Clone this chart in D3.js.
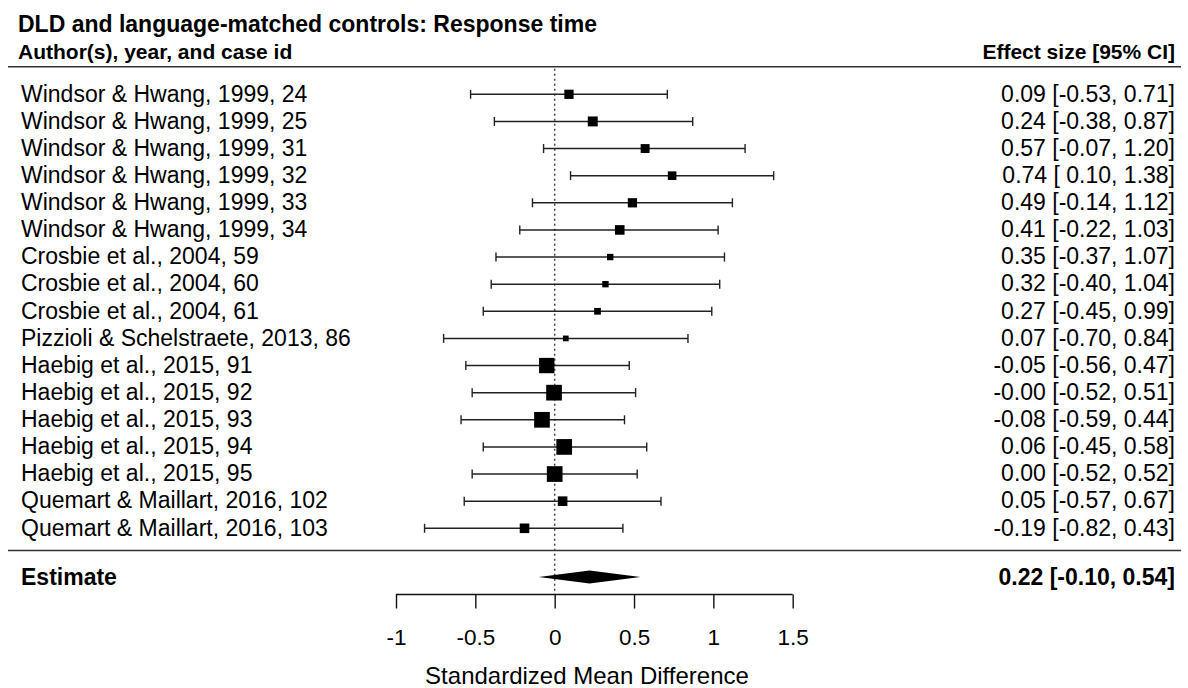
<!DOCTYPE html>
<html>
<head>
<meta charset="utf-8">
<script src="https://cdn.jsdelivr.net/npm/d3@7"></script>
<style>
  html, body { margin: 0; padding: 0; background: #fff; }
  svg { display: block; }
  text { font-family: "Liberation Sans", Arial, Helvetica, sans-serif; fill: #000; white-space: pre; }
</style>
</head>
<body>
<svg id="chart" width="1188" height="688"></svg>
<script>
// Study rows: author, year and case id
const studies = [
  "Windsor & Hwang, 1999, 24",
  "Windsor & Hwang, 1999, 25",
  "Windsor & Hwang, 1999, 31",
  "Windsor & Hwang, 1999, 32",
  "Windsor & Hwang, 1999, 33",
  "Windsor & Hwang, 1999, 34",
  "Crosbie et al., 2004, 59",
  "Crosbie et al., 2004, 60",
  "Crosbie et al., 2004, 61",
  "Pizzioli & Schelstraete, 2013, 86",
  "Haebig et al., 2015, 91",
  "Haebig et al., 2015, 92",
  "Haebig et al., 2015, 93",
  "Haebig et al., 2015, 94",
  "Haebig et al., 2015, 95",
  "Quemart & Maillart, 2016, 102",
  "Quemart & Maillart, 2016, 103"
];

// Standardized mean differences with 95% confidence limits
const effect = [0.09, 0.24, 0.57, 0.74, 0.49, 0.41, 0.35, 0.32, 0.27, 0.07, -0.05, -0.004, -0.08, 0.06, 0.00, 0.05, -0.19];
const ciLower = [-0.53, -0.38, -0.07, 0.10, -0.14, -0.22, -0.37, -0.40, -0.45, -0.70, -0.56, -0.52, -0.59, -0.45, -0.52, -0.57, -0.82];
const ciUpper = [0.71, 0.87, 1.20, 1.38, 1.12, 1.03, 1.07, 1.04, 0.99, 0.84, 0.47, 0.51, 0.44, 0.58, 0.52, 0.67, 0.43];

// Model weights, used for the size of each square
const weights = [6.0, 6.4, 5.8, 5.6, 6.0, 6.2, 4.3, 4.3, 4.5, 3.9, 9.6, 9.8, 9.8, 9.8, 9.8, 6.2, 6.2];

// Pooled estimate
const pooled = { label: "Estimate", est: 0.22, lb: -0.10, ub: 0.54 };

// Axis ticks
const axisTicks = [-1, -0.5, 0, 0.5, 1, 1.5];

const titleText = "DLD and language-matched controls: Response time";
const leftHeader = "Author(s), year, and case id";
const rightHeader = "Effect size [95% CI]";
const axisTitle = "Standardized Mean Difference";

const svg = d3.select("#chart");

const x = d3.scaleLinear().domain([-1, 1.5]).range([396, 792.7]);
const y = d3.scalePoint().domain(d3.range(studies.length)).range([94.3, 528.3]);
const size = d3.scaleLinear().domain(d3.extent(weights)).range([5.7, 15.7]);

const labelX = 21, rightX = 1175;
const ruleX0 = 8, ruleX1 = 1181;
const topRule = 66.7, bottomRule = 550.5;
const pooledY = 577, axisY = 594.5;
const lineColor = "#333";

const fmt = v => v.toFixed(2);
const fmtLow = v => (v >= 0 ? " " : "") + fmt(v);

// Title and column headers
svg.append("text").attr("x", 18).attr("y", 31.5)
  .attr("font-size", 23).attr("font-weight", "bold").text(titleText);
svg.append("text").attr("x", 18).attr("y", 58.5)
  .attr("font-size", 21).attr("font-weight", "bold").text(leftHeader);
svg.append("text").attr("x", rightX).attr("y", 58.5).attr("text-anchor", "end")
  .attr("font-size", 21).attr("font-weight", "bold").text(rightHeader);

// Horizontal rules
svg.selectAll("line.rule").data([topRule, bottomRule]).join("line")
  .attr("class", "rule")
  .attr("x1", ruleX0).attr("x2", ruleX1)
  .attr("y1", d => d).attr("y2", d => d)
  .attr("stroke", lineColor).attr("stroke-width", 1.6);

// Reference line at zero
svg.append("line")
  .attr("x1", x(0)).attr("x2", x(0))
  .attr("y1", topRule + 2).attr("y2", axisY)
  .attr("stroke", "#444").attr("stroke-width", 1.5)
  .attr("stroke-dasharray", "2,3");

const rows = d3.range(studies.length).map(i => ({
  i, label: studies[i], est: effect[i], lb: ciLower[i], ub: ciUpper[i], w: weights[i]
}));

const g = svg.append("g");

// Confidence intervals
g.selectAll("line.ci").data(rows).join("line")
  .attr("class", "ci")
  .attr("x1", d => x(d.lb)).attr("x2", d => x(d.ub))
  .attr("y1", d => y(d.i)).attr("y2", d => y(d.i))
  .attr("stroke", "#222").attr("stroke-width", 1.4);

// Interval end caps
const caps = rows.flatMap(d => [{ v: d.lb, i: d.i }, { v: d.ub, i: d.i }]);
g.selectAll("line.cap").data(caps).join("line")
  .attr("class", "cap")
  .attr("x1", d => x(d.v)).attr("x2", d => x(d.v))
  .attr("y1", d => y(d.i) - 4.5).attr("y2", d => y(d.i) + 4.5)
  .attr("stroke", "#222").attr("stroke-width", 1.4);

// Point estimates, sized by weight
g.selectAll("rect.pt").data(rows).join("rect")
  .attr("class", "pt")
  .attr("x", d => x(d.est) - size(d.w) / 2)
  .attr("y", d => y(d.i) - size(d.w) / 2)
  .attr("width", d => size(d.w)).attr("height", d => size(d.w))
  .attr("fill", "#000");

// Study labels
g.selectAll("text.study").data(rows).join("text")
  .attr("class", "study")
  .attr("x", labelX).attr("y", d => y(d.i) + 7.2)
  .attr("font-size", 23).text(d => d.label);

// Effect size text
g.selectAll("text.es").data(rows).join("text")
  .attr("class", "es")
  .attr("x", rightX).attr("y", d => y(d.i) + 7.2)
  .attr("text-anchor", "end").attr("font-size", 23)
  .text(d => `${fmt(d.est)} [${fmtLow(d.lb)}, ${fmt(d.ub)}]`);

// Pooled estimate row
svg.append("text").attr("x", labelX).attr("y", pooledY + 7.8)
  .attr("font-size", 23).attr("font-weight", "bold").text(pooled.label);
svg.append("text").attr("x", rightX).attr("y", pooledY + 7.8)
  .attr("text-anchor", "end").attr("font-size", 23).attr("font-weight", "bold")
  .text(`${fmt(pooled.est)} [${fmtLow(pooled.lb)}, ${fmt(pooled.ub)}]`);

svg.append("polygon")
  .attr("points", [
    [x(pooled.lb), pooledY],
    [x(pooled.est), pooledY - 6.5],
    [x(pooled.ub), pooledY],
    [x(pooled.est), pooledY + 6.5]
  ].map(p => p.join(",")).join(" "))
  .attr("fill", "#000");

// Bottom axis
const axis = d3.axisBottom(x).tickValues(axisTicks).tickSize(14).tickPadding(20)
  .tickFormat(d => String(d));
const ax = svg.append("g").attr("transform", `translate(0,${axisY})`).call(axis);
ax.select(".domain").attr("stroke", "#111").attr("stroke-width", 1.4)
  .attr("d", `M${x(-1)},0H${x(1.5)}`);
ax.selectAll(".tick line").attr("stroke", "#111").attr("stroke-width", 1.4);
ax.selectAll(".tick text").attr("font-size", 22.5)
  .attr("font-family", "'Liberation Sans', Arial, sans-serif").attr("fill", "#000")
  .attr("dy", null).attr("y", 50);

svg.append("text").attr("x", 587).attr("y", 683.5)
  .attr("text-anchor", "middle").attr("font-size", 24).text(axisTitle);
</script>
</body>
</html>
